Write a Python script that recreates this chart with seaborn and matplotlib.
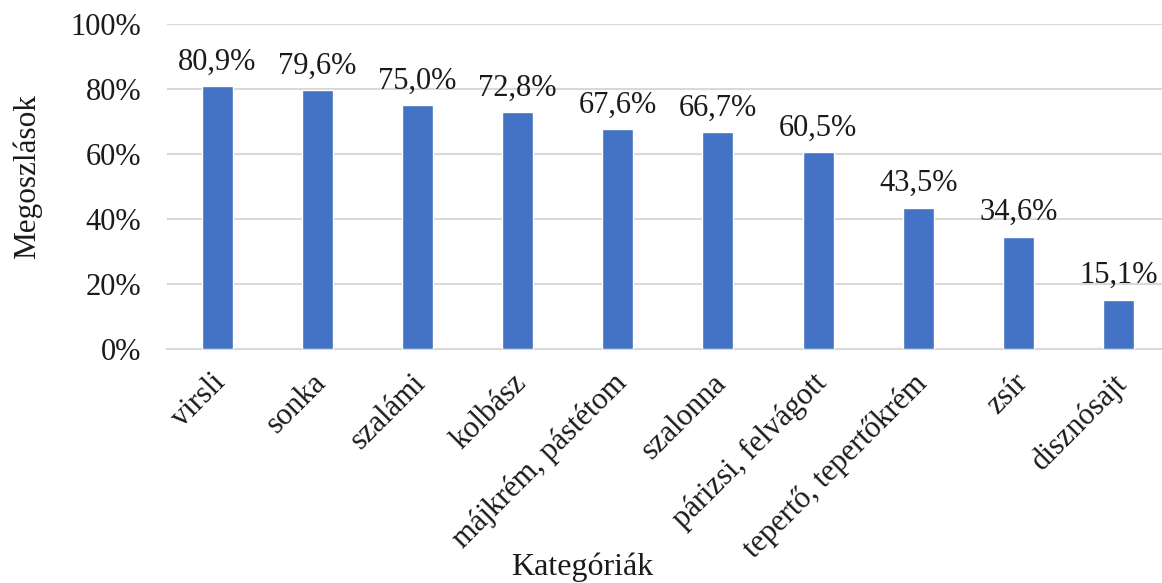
import matplotlib
matplotlib.use("Agg")
import matplotlib.pyplot as plt
import matplotlib.transforms as mtransforms
import seaborn as sns
import pandas as pd

categories = ["virsli", "sonka", "szalámi", "kolbász", "májkrém, pástétom",
              "szalonna", "párizsi, felvágott", "tepertő, tepertőkrém",
              "zsír", "disznósajt"]
values = [80.9, 79.6, 75.0, 72.8, 67.6, 66.7, 60.5, 43.5, 34.6, 15.1]
yticks = [0, 20, 40, 60, 80, 100]

sns.set_theme(style="white")
plt.rcParams["font.family"] = ["Liberation Serif", "DejaVu Serif"]

df = pd.DataFrame({"cat": categories, "val": values})

fig = plt.figure(figsize=(11.62, 5.83), dpi=100)
ax = fig.add_axes([0.1437, 0.4014, 0.862, 0.5574])

sns.barplot(data=df, x="cat", y="val", color="#4472C4", saturation=1,
            width=0.31, ax=ax, zorder=3)

ax.set_ylim(0, 100)
ax.set_xlim(-0.5, len(categories) - 0.5)
ax.set_yticks(yticks)
ax.set_yticklabels([f"{t}%" for t in yticks], fontsize=22, color="#1a1a1a")
ax.grid(axis="y", color="#d9d9d9", linewidth=1.5, zorder=0)
ax.set_axisbelow(True)
for s in ["top", "right", "left"]:
    ax.spines[s].set_visible(False)
ax.spines["bottom"].set_color("#d9d9d9")
ax.spines["bottom"].set_linewidth(1.5)
ax.tick_params(axis="both", length=0)
ax.tick_params(axis="y", pad=18.5)
ax.tick_params(axis="x", pad=14)

ax.set_xticks(range(len(categories)))
ax.set_xticklabels(categories, rotation=45, ha="right", rotation_mode="anchor",
                   fontsize=22, color="#1a1a1a")
shift = mtransforms.ScaledTranslation(-6 / 100, 0, fig.dpi_scale_trans)
for lbl in ax.get_xticklabels():
    lbl.set_transform(lbl.get_transform() + shift)

for i, v in enumerate(values):
    ax.annotate(f"{v:.1f}%".replace(".", ","), (i, v), xytext=(0, 7),
                textcoords="offset points", ha="center", va="bottom",
                fontsize=22, color="#1a1a1a")

ax.set_xlabel("Kategóriák", fontsize=23, color="#1a1a1a")
ax.set_ylabel("Megoszlások", fontsize=22.5, color="#1a1a1a")
ax.xaxis.set_label_coords(0.415, -0.625)
ax.yaxis.set_label_coords(-0.125, 0.53)

fig.savefig("out.png", dpi=100)
